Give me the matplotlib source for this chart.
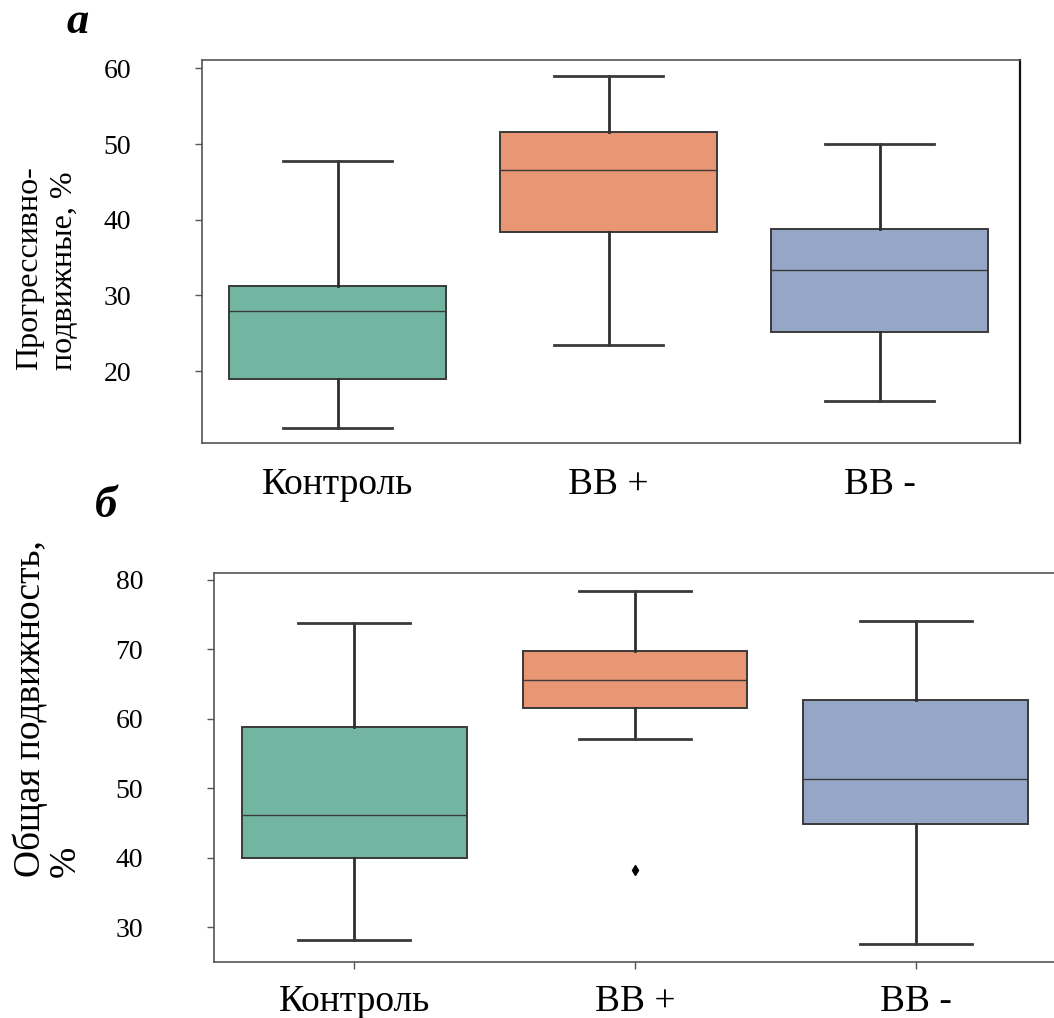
import matplotlib
matplotlib.use("Agg")
import matplotlib.pyplot as plt

# Groups and box statistics (percent)
groups = ["Контроль", "ВВ +", "ВВ -"]
colors = ["#72b6a1", "#e99675", "#95a6c6"]

# Panel a: progressively motile
prog_lo = [12.5, 23.4, 16.1]
prog_q1 = [19.0, 38.4, 25.1]
prog_med = [28.0, 46.6, 33.3]
prog_q3 = [31.3, 51.6, 38.8]
prog_hi = [47.7, 59.0, 50.0]
prog_fliers = [[], [], []]
prog_ticks = [20, 30, 40, 50, 60]

# Panel b: total motility
tot_lo = [28.2, 57.1, 27.6]
tot_q1 = [40.0, 61.6, 44.9]
tot_med = [46.2, 65.6, 51.3]
tot_q3 = [58.9, 69.8, 62.7]
tot_hi = [73.8, 78.4, 74.1]
tot_fliers = [[], [38.2], []]
tot_ticks = [30, 40, 50, 60, 70, 80]

FONT = "Liberation Serif"
W, H = 1054, 1018


def stats(lo, q1, med, q3, hi, fl):
    return [dict(whislo=a, q1=b, med=c, q3=d, whishi=e, fliers=f, label=g)
            for a, b, c, d, e, f, g in zip(lo, q1, med, q3, hi, fl, groups)]


def draw(ax, st, xlim, ylim, ticks, xtick_len, xpad):
    bp = ax.bxp(st, positions=range(len(st)), widths=0.8, patch_artist=True,
                showfliers=True,
                boxprops=dict(edgecolor="#3a3a3a", linewidth=1.4),
                whiskerprops=dict(color="#2e2e2e", linewidth=2.0),
                capprops=dict(color="#3a3a3a", linewidth=2.0),
                medianprops=dict(color="#3a3a3a", linewidth=1.0),
                flierprops=dict(marker="d", markersize=5,
                                markerfacecolor="black", markeredgecolor="black"))
    for patch, c in zip(bp["boxes"], colors):
        patch.set_facecolor(c)
    ax.set_xlim(*xlim)
    ax.set_ylim(*ylim)
    ax.set_yticks(ticks)
    ax.set_yticklabels([str(t) for t in ticks], family=FONT, fontsize=20)
    ax.set_xticks(range(len(groups)))
    ax.set_xticklabels(groups, family=FONT, fontsize=27)
    ax.tick_params(axis="y", length=5, width=1, color="#555555", pad=46)
    ax.tick_params(axis="x", length=xtick_len, width=1, color="#555555", pad=xpad)
    for s in ax.spines.values():
        s.set_color("#555555")
        s.set_linewidth(1.2)


fig = plt.figure(figsize=(W / 100, H / 100), dpi=100)

# Panel a
ax1 = fig.add_axes([202 / W, 1 - 443 / H, 818 / W, 383 / H])
draw(ax1, stats(prog_lo, prog_q1, prog_med, prog_q3, prog_hi, prog_fliers),
     (-0.5, 2.518), (10.5, 61.1), prog_ticks, 0, 18)
ax1.spines["right"].set_color("#111111")
ax1.spines["right"].set_linewidth(1.6)
fig.text(47 / W, 1 - 370 / H, "Прогрессивно-\nподвижные, %", family=FONT,
         fontsize=23, rotation=90, ha="center", va="bottom",
         multialignment="left", linespacing=1.3)

# Panel b (right side runs past the figure edge)
ax2 = fig.add_axes([214 / W, 1 - 962 / H, 842 / W, 389 / H])
draw(ax2, stats(tot_lo, tot_q1, tot_med, tot_q3, tot_hi, tot_fliers),
     (-0.5, 2.5), (25.0, 81.0), tot_ticks, 5, 11)
ax2.spines["right"].set_visible(False)
fig.text(48 / W, 1 - 877 / H, "Общая подвижность,\n%", family=FONT,
         fontsize=27, rotation=90, ha="center", va="bottom",
         multialignment="left", linespacing=1.0)

fig.text(78 / W, 1 - 22 / H, "а", family=FONT, fontsize=32, fontweight="bold",
         fontstyle="italic", ha="center", va="center")
fig.text(106 / W, 1 - 506 / H, "б", family=FONT, fontsize=32, fontweight="bold",
         fontstyle="italic", ha="center", va="center")

fig.savefig("out.png", dpi=100)
